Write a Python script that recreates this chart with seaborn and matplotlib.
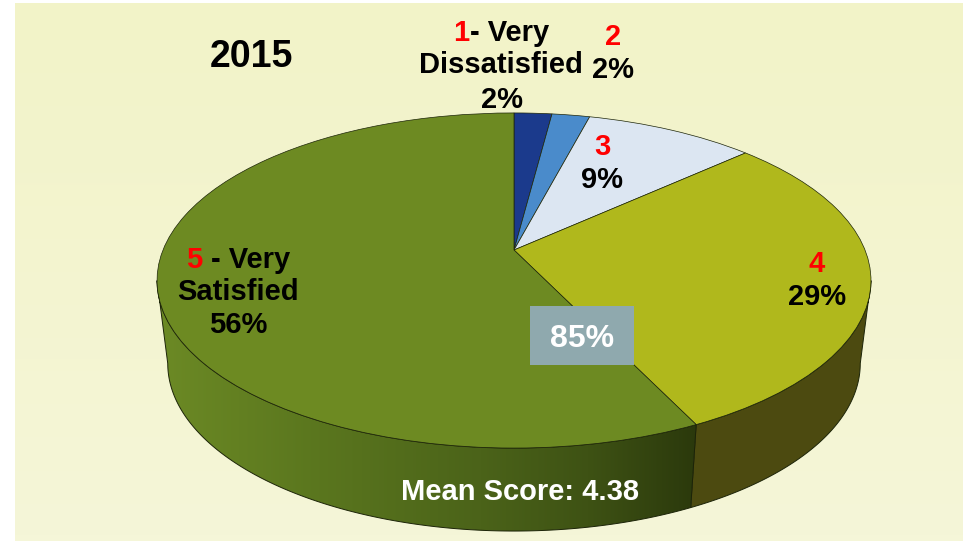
import numpy as np
import matplotlib
matplotlib.use("Agg")
import matplotlib.pyplot as plt
from matplotlib.colors import LinearSegmentedColormap
from matplotlib.transforms import Transform
import seaborn as sns

# ---- data ----
categories = ["1- Very Dissatisfied", "2", "3", "4", "5 - Very Satisfied"]
percent = [2, 2, 9, 29, 56]
slice_colors = ["#1B3A8C", "#4A8BCB", "#DCE6F2", "#B0B81C", "#6D8A22"]
year_label = "2015"
mean_label = "Mean Score: 4.38"
top2_label = "85%"

sns.set_theme(style="white")
plt.rcParams["font.family"] = ["Liberation Sans", "DejaVu Sans"]
plt.rcParams["font.weight"] = "bold"

# ---- perspective view of the unit pie, in pixel space ----
CX, CY, RX, RY, K = 514.0, 250.0, 351.0, 162.0, 0.182
DEPTH, SHRINK = 83.0, 0.97


class PieView(Transform):
    input_dims = 2
    output_dims = 2
    is_separable = False
    has_inverse = False

    def __init__(self, drop=0.0, scale=1.0):
        super().__init__()
        self.drop, self.scale = drop, scale

    def transform_non_affine(self, values):
        v = np.asarray(values, dtype=float)
        w = 1 + K * v[:, 1]
        return np.column_stack([
            CX + self.scale * RX * v[:, 0] / w,
            CY - RY * v[:, 1] / w + self.drop,
        ])


fig = plt.figure(figsize=(9.63, 5.41), dpi=100, facecolor="white")
ax = fig.add_axes([0, 0, 1, 1])

wedges, _ = ax.pie(percent, colors=slice_colors, startangle=90, counterclock=False,
                   wedgeprops=dict(edgecolor="#1c2408", linewidth=0.5, zorder=5))
top_view = PieView()
for w in wedges:
    w.set_transform(top_view + ax.transData)

# background panel
bg_cmap = LinearSegmentedColormap.from_list("bg", ["#F2F3C8", "#F5F6D8"])
ax.imshow(np.linspace(0, 1, 64)[:, None], extent=(15, 963, 541, 3), cmap=bg_cmap,
          aspect="auto", zorder=0, interpolation="bilinear")

# side walls, derived from the slice boundaries and cut at the silhouette
fractions = np.array(percent, dtype=float) / np.sum(percent)
edges = np.concatenate([[0], np.cumsum(fractions)]) * 2 * np.pi
low_view = PieView(DEPTH, SHRINK)


def rim(t):
    return np.column_stack([np.sin(t), np.cos(t)])


probe = np.linspace(0, 2 * np.pi, 1441)
probe_x = top_view.transform(rim(probe))[:, 0]
t_right, t_left = probe[np.argmax(probe_x)], probe[np.argmin(probe_x)]


def wall(a0, a1):
    t = np.linspace(a0, a1, 300)
    return np.vstack([top_view.transform(rim(t)), low_view.transform(rim(t))[::-1]])


wall4 = ax.fill(*wall(t_right, edges[4]).T, facecolor="#4C4A10",
                edgecolor="#1c2408", linewidth=0.7, zorder=2)[0]
wall5_outline = ax.fill(*wall(edges[4], t_left).T, facecolor="none",
                        edgecolor="#1c2408", linewidth=0.7, zorder=3)[0]
wall_cmap = LinearSegmentedColormap.from_list(
    "wall", [(0, "#6C8A25"), (0.3, "#5A761E"), (0.6, "#4B6319"),
             (0.8, "#3E5214"), (1, "#2B390C")])
grad = ax.imshow(np.linspace(0, 1, 256)[None, :], extent=(157, 697, 541, 100),
                 cmap=wall_cmap, aspect="auto", zorder=2, interpolation="bilinear")
grad.set_clip_path(wall5_outline.get_path(), wall5_outline.get_transform())

ax.set_xlim(0, 963)
ax.set_ylim(541, 0)
ax.set_aspect("auto")
ax.axis("off")


def label(x, y, s, size=21, color="black", ha="center", **kw):
    ax.text(x, y, s, fontsize=size, color=color, ha=ha, va="baseline",
            fontweight="bold", zorder=8, **kw)


label(251, 67, year_label, size=27)

label(469, 41, "1", color="#FF0000", ha="right")
label(470, 41, "- Very", ha="left")
label(501, 73, "Dissatisfied")
label(502, 108, f"{percent[0]}%")

label(613, 45, "2", color="#FF0000")
label(613, 78, f"{percent[1]}%")

label(602, 155, "3", color="#FF0000")
label(602, 188, f"{percent[2]}%")

label(817, 272, "4", color="#FF0000")
label(817, 305, f"{percent[3]}%")

label(202, 268, "5", color="#FF0000", ha="right")
label(211, 268, "- Very", ha="left")
label(238, 300, "Satisfied")
label(238, 333, f"{percent[4]}%")

ax.text(582, 347, top2_label, fontsize=23, color="white", ha="center", va="baseline",
        fontweight="bold", zorder=8)
ax.axvspan(530, 634, ymin=1 - 365 / 541, ymax=1 - 306 / 541, facecolor="#8FA9AE",
           edgecolor="none", zorder=7)
label(520, 500, mean_label, color="white")

fig.savefig("out.png", dpi=100)
